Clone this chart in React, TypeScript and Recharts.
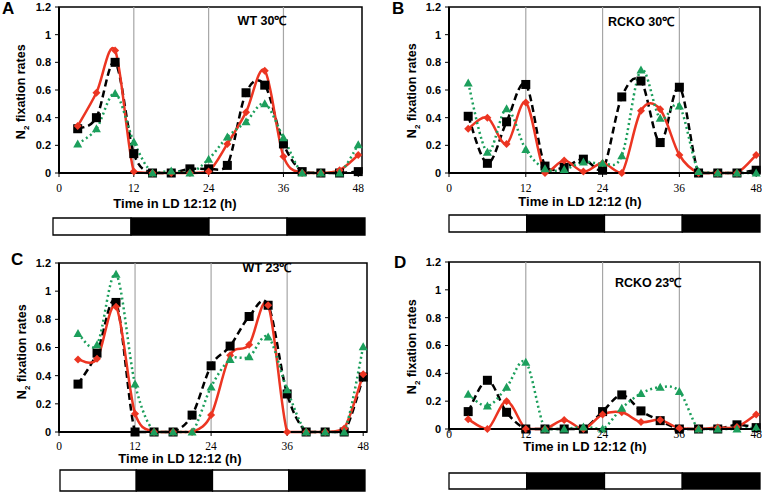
import React from 'react';
import {BarChart, Bar, Line, LineChart, ReferenceArea, ReferenceLine, XAxis, YAxis} from 'recharts';

// sampling times (h) in LD 12:12
const hours = [3, 6, 9, 12, 15, 18, 21, 24, 27, 30, 33, 36, 39, 42, 45, 48];
const xTicks = [0, 12, 24, 36, 48];
const yTicks = [0, 0.2, 0.4, 0.6, 0.8, 1, 1.2];
const gridHours = [12, 24, 36];

// light / dark bar under each panel
const phases = ['light', 'dark', 'light', 'dark'];
const phaseHours = [12, 12, 12, 12];

// A: WT 30C
const wt30Square = [0.32, 0.4, 0.8, 0.14, 0, 0, 0.03, 0.03, 0.055, 0.58, 0.635, 0.21, 0.01, 0, 0, 0.01];
const wt30Diamond = [0.34, 0.58, 0.885, 0.01, 0, 0, 0, 0.01, 0.21, 0.44, 0.74, 0.12, 0, 0, 0.02, 0.13];
const wt30Triangle = [0.21, 0.32, 0.575, 0.225, 0, 0.015, 0, 0.1, 0.26, 0.37, 0.5, 0.255, 0, 0, 0, 0.205];

// B: RCKO 30C
const rcko30Square = [0.41, 0.07, 0.37, 0.64, 0.05, 0.04, 0.1, 0.02, 0.55, 0.665, 0.22, 0.62, 0, 0, 0, 0.02];
const rcko30Diamond = [0.32, 0.4, 0.21, 0.51, 0, 0.09, 0.01, 0.07, 0, 0.45, 0.46, 0.13, 0, 0, 0, 0.13];
const rcko30Triangle = [0.65, 0.15, 0.465, 0.17, 0.03, 0.025, 0.08, 0.07, 0.125, 0.745, 0.395, 0.485, 0.01, 0, 0, 0];

// C: WT 23C
const wt23Square = [0.34, 0.56, 0.92, 0, 0, 0, 0.12, 0.47, 0.61, 0.82, 0.9, 0.27, 0, 0, 0, 0.39];
const wt23Diamond = [0.515, 0.52, 0.89, 0.13, 0, 0, 0, 0.12, 0.545, 0.62, 0.9, 0, 0, 0, 0.025, 0.41];
const wt23Triangle = [0.7, 0.62, 1.12, 0.34, 0, 0, 0, 0.32, 0.515, 0.535, 0.675, 0.3, 0, 0, 0, 0.605];

// D: RCKO 23C
const rcko23Square = [0.125, 0.35, 0.12, 0, 0, 0, 0, 0.125, 0.245, 0.13, 0.06, 0, 0, 0, 0.03, 0.01];
const rcko23Diamond = [0.07, 0, 0.2, 0, 0, 0.065, 0, 0.105, 0.12, 0.05, 0.065, 0.005, 0, 0.01, 0.015, 0.105];
const rcko23Triangle = [0.25, 0.165, 0.3, 0.48, 0, 0, 0.015, 0, 0.15, 0.255, 0.3, 0.27, 0, 0, 0, 0.01];

const RED = '#ec3522';
const GREEN = '#1c9f5c';
const SANS = '"Liberation Sans", Arial, sans-serif';
const SERIF = '"Liberation Serif", "Times New Roman", serif';

// excel-style smoothed line (catmull-rom as bezier), kept from dipping under the lowest point
function excelCurve(context: any) {
  let pts: number[][] = [];
  return {
    areaStart() {},
    areaEnd() {},
    lineStart() {
      pts = [];
    },
    point(x: number, y: number) {
      pts.push([+x, +y]);
    },
    lineEnd() {
      const n = pts.length;
      if (!n) return;
      const floor = Math.max(...pts.map((p) => p[1]));
      const cy = (v: number) => Math.min(v, floor);
      context.moveTo(pts[0][0], pts[0][1]);
      for (let i = 0; i < n - 1; i++) {
        const p0 = pts[Math.max(i - 1, 0)];
        const p1 = pts[i];
        const p2 = pts[i + 1];
        const p3 = pts[Math.min(i + 2, n - 1)];
        context.bezierCurveTo(
          p1[0] + (p2[0] - p0[0]) / 6,
          cy(p1[1] + (p2[1] - p0[1]) / 6),
          p2[0] - (p3[0] - p1[0]) / 6,
          cy(p2[1] - (p3[1] - p1[1]) / 6),
          p2[0],
          p2[1],
        );
      }
    },
  };
}

const squareDot = (p: any) =>
  p.cx == null ? null : <rect key={`sq-${p.index}`} x={p.cx - 4.5} y={p.cy - 4.5} width={9} height={9} fill="#000" />;

const diamondDot = (p: any) =>
  p.cx == null ? null : (
    <polygon
      key={`di-${p.index}`}
      points={`${p.cx},${p.cy - 4} ${p.cx + 4},${p.cy} ${p.cx},${p.cy + 4} ${p.cx - 4},${p.cy}`}
      fill={RED}
    />
  );

const triangleDot = (p: any) =>
  p.cx == null ? null : (
    <polygon
      key={`tr-${p.index}`}
      points={`${p.cx},${p.cy - 4.5} ${p.cx + 4.5},${p.cy + 3.5} ${p.cx - 4.5},${p.cy + 3.5}`}
      fill={GREEN}
    />
  );

type PanelProps = {
  letter: string;
  title: string;
  square: number[];
  diamond: number[];
  triangle: number[];
  plot: number[]; // left, right, top, bottom
  tickGap: number;
  letterPos: number[];
  titlePos: number[];
  yLabelPos: number[];
  xLabelPos: number[];
  bar: number[]; // left, right, top, bottom
};

function DayNightBar({bar}: {bar: number[]}) {
  const row: any = {row: 'LD'};
  phaseHours.forEach((h, i) => (row[`p${i}`] = h));
  const [l, r, t, b] = bar;
  return (
    <div style={{position: 'absolute', left: l - 1, top: t - 1}}>
      <BarChart
        width={r - l + 2}
        height={b - t + 2}
        data={[row]}
        layout="vertical"
        barCategoryGap={0}
        margin={{top: 1, right: 1, bottom: 1, left: 1}}
      >
        <XAxis type="number" hide domain={[0, 48]} />
        <YAxis type="category" dataKey="row" hide />
        {phases.map((ph, i) => (
          <Bar
            key={i}
            dataKey={`p${i}`}
            stackId="ld"
            fill={ph === 'light' ? '#fff' : '#000'}
            stroke="#000"
            strokeWidth={1.3}
            isAnimationActive={false}
          />
        ))}
      </BarChart>
    </div>
  );
}

function Panel(props: PanelProps) {
  const {plot} = props;
  const [x0, x1, y0, y1] = plot;
  const rows = hours.map((h, i) => ({h, sq: props.square[i], di: props.diamond[i], tr: props.triangle[i]}));
  const xMax = 48.6;
  return (
    <>
      <div style={{position: 'absolute', left: x0 - 50, top: y0 - 10}}>
        <LineChart
          width={x1 - x0 + 60}
          height={y1 - y0 + 40}
          data={rows}
          margin={{top: 10, right: 10, left: 10, bottom: 5}}
        >
          <XAxis
            dataKey="h"
            type="number"
            domain={[0, xMax]}
            ticks={xTicks}
            height={25}
            axisLine={{stroke: '#000', strokeWidth: 2}}
            tickLine={{stroke: '#000'}}
            tickSize={4}
            tickMargin={props.tickGap}
            tick={{fill: '#000', fontSize: 11.5, fontFamily: SERIF}}
          />
          <YAxis
            width={40}
            domain={[0, 1.2]}
            ticks={yTicks}
            axisLine={{stroke: '#000', strokeWidth: 2}}
            tickLine={{stroke: '#000'}}
            tickSize={4}
            tickMargin={4}
            tick={{fill: '#000', fontSize: 11, fontWeight: 700, fontFamily: SANS}}
          />
          {gridHours.map((g) => (
            <ReferenceLine key={g} x={g} stroke="#a6a6a6" strokeWidth={1.2} />
          ))}
          <ReferenceArea x1={0} x2={xMax} y1={0} y2={1.2} fill="none" stroke="#000" strokeWidth={1.5} />
          <Line
            dataKey="sq"
            type={excelCurve as any}
            stroke="#000"
            strokeWidth={2.5}
            strokeDasharray="7 4"
            dot={squareDot}
            activeDot={false}
            isAnimationActive={false}
          />
          <Line
            dataKey="di"
            type={excelCurve as any}
            stroke={RED}
            strokeWidth={2.5}
            dot={diamondDot}
            activeDot={false}
            isAnimationActive={false}
          />
          <Line
            dataKey="tr"
            type={excelCurve as any}
            stroke={GREEN}
            strokeWidth={2.5}
            strokeDasharray="2 3"
            dot={triangleDot}
            activeDot={false}
            isAnimationActive={false}
          />
        </LineChart>
      </div>
      <div
        style={{
          position: 'absolute',
          left: props.letterPos[0],
          top: props.letterPos[1],
          fontSize: 17,
          fontWeight: 700,
          fontFamily: SANS,
        }}
      >
        {props.letter}
      </div>
      <div
        style={{
          position: 'absolute',
          left: props.titlePos[0] - 60,
          top: props.titlePos[1] - 8,
          width: 120,
          textAlign: 'center',
          fontSize: 12.5,
          fontWeight: 700,
          fontFamily: SANS,
          lineHeight: '16px',
        }}
      >
        {props.title}
      </div>
      <div
        style={{
          position: 'absolute',
          left: props.yLabelPos[0] - 70,
          top: props.yLabelPos[1] - 9,
          width: 140,
          textAlign: 'center',
          transform: 'rotate(-90deg)',
          fontSize: 12.5,
          fontWeight: 700,
          fontFamily: SANS,
          lineHeight: '18px',
        }}
      >
        N<sub style={{fontSize: 8}}>2</sub> fixation rates
      </div>
      <div
        style={{
          position: 'absolute',
          left: props.xLabelPos[0] - 90,
          top: props.xLabelPos[1] - 7,
          width: 180,
          textAlign: 'center',
          fontSize: 13,
          fontWeight: 700,
          fontFamily: SANS,
          lineHeight: '14px',
        }}
      >
        Time in LD 12:12 (h)
      </div>
      <DayNightBar bar={props.bar} />
    </>
  );
}

export default function App() {
  return (
    <div
      style={{
        position: 'absolute',
        left: 0,
        top: 0,
        width: 762,
        height: 493,
        overflow: 'hidden',
        background: '#fff',
        fontFamily: SANS,
      }}
    >
      <Panel
        letter="A"
        title="WT 30℃"
        square={wt30Square}
        diamond={wt30Diamond}
        triangle={wt30Triangle}
        plot={[59, 362, 7, 173]}
        tickGap={7}
        letterPos={[2, -1]}
        titlePos={[262, 21]}
        yLabelPos={[24, 89]}
        xLabelPos={[175, 204]}
        bar={[53, 365, 218, 235]}
      />
      <Panel
        letter="B"
        title="RCKO 30℃"
        square={rcko30Square}
        diamond={rcko30Diamond}
        triangle={rcko30Triangle}
        plot={[449, 760, 7, 173]}
        tickGap={7}
        letterPos={[392, -1]}
        titlePos={[641, 22]}
        yLabelPos={[415, 88]}
        xLabelPos={[580, 202]}
        bar={[449, 760, 215, 232]}
      />
      <Panel
        letter="C"
        title="WT 23℃"
        square={wt23Square}
        diamond={wt23Diamond}
        triangle={wt23Triangle}
        plot={[59, 367, 263, 432]}
        tickGap={6}
        letterPos={[11, 250]}
        titlePos={[267, 268]}
        yLabelPos={[25, 349]}
        xLabelPos={[180, 459]}
        bar={[60, 365, 470, 491]}
      />
      <Panel
        letter="D"
        title="RCKO 23℃"
        square={rcko23Square}
        diamond={rcko23Diamond}
        triangle={rcko23Triangle}
        plot={[449, 760, 262, 429]}
        tickGap={-3}
        letterPos={[394, 253]}
        titlePos={[648, 283]}
        yLabelPos={[415, 344]}
        xLabelPos={[585, 447]}
        bar={[449, 760, 473, 489]}
      />
    </div>
  );
}
